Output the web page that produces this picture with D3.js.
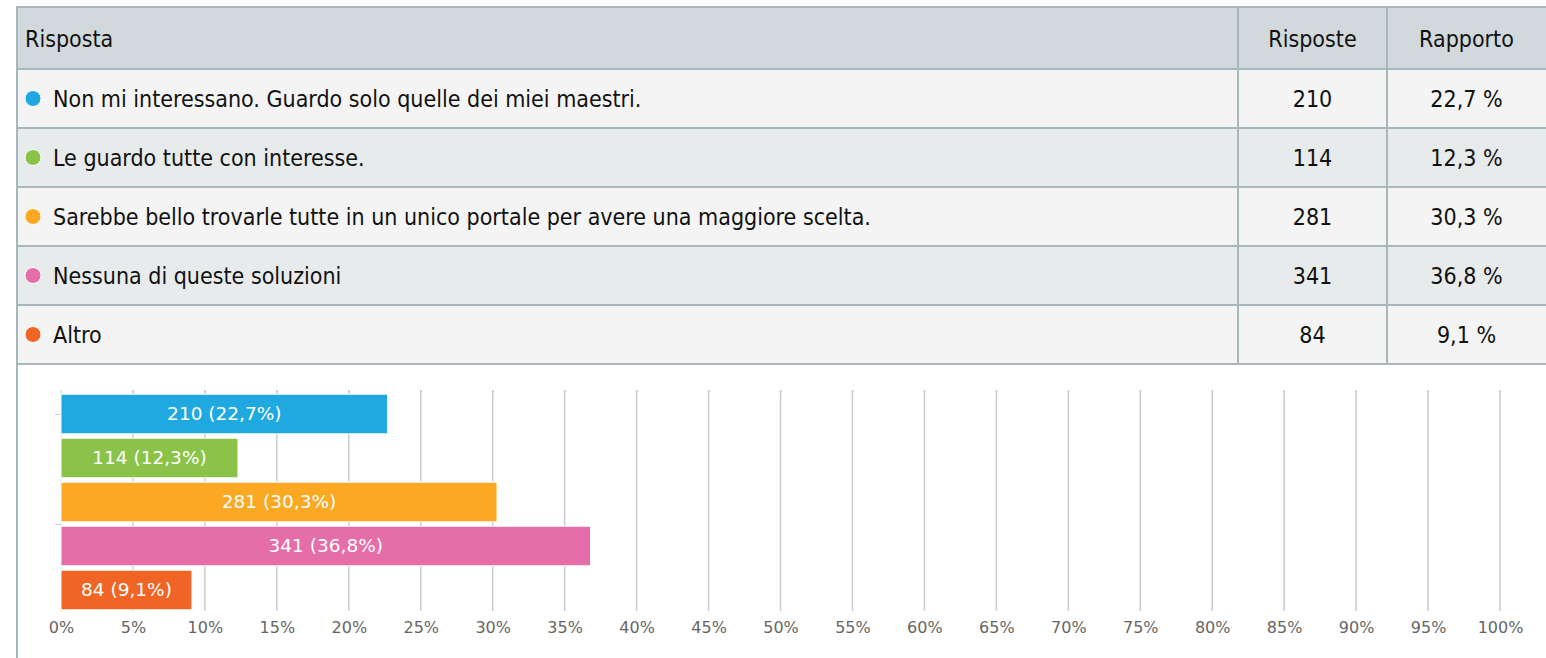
<!DOCTYPE html>
<html>
<head>
<meta charset="utf-8">
<script src="https://cdn.jsdelivr.net/npm/d3@7/dist/d3.min.js"></script>
<style>
  html, body { margin: 0; padding: 0; background: #fff; }
  svg { display: block; }
  .cell { font-family: "Liberation Sans Narrow", "DejaVu Sans Condensed", "Roboto Condensed", sans-serif; font-size: 23px; fill: #111; }
  .tick-label { font-family: "DejaVu Sans", sans-serif; font-size: 16px; fill: #666; }
  .bar-label { font-family: "DejaVu Sans", sans-serif; font-size: 18.5px; fill: #fff; }
</style>
</head>
<body>
<div id="chart"></div>
<script>
// answers, counts and shares as shown in the survey table
const answers = [
  'Non mi interessano. Guardo solo quelle dei miei maestri.',
  'Le guardo tutte con interesse.',
  'Sarebbe bello trovarle tutte in un unico portale per avere una maggiore scelta.',
  'Nessuna di queste soluzioni',
  'Altro'
];
const counts = [210, 114, 281, 341, 84];
const shares = [22.7, 12.3, 30.3, 36.8, 9.1];
const colors = ['#20a9e0', '#8bc34a', '#fba823', '#e56ea9', '#f06525'];
const headers = ['Risposta', 'Risposte', 'Rapporto'];
const xTicks = d3.range(0, 101, 5);

const W = 1546, H = 658;
const fmt = v => String(v).replace('.', ',');

const svg = d3.select('#chart').append('svg')
  .attr('width', W).attr('height', H);

// ---- table ----
const border = '#a8b6be';
const tableTop = 7, headH = 62, rowH = 59;
const colX = [16, 1238, 1387, W];

const rowY = d3.scaleLinear().domain([0, answers.length]).range([tableTop + headH, tableTop + headH + rowH * answers.length]);

svg.append('rect')
  .attr('x', colX[0]).attr('y', tableTop)
  .attr('width', W - colX[0]).attr('height', headH)
  .attr('fill', '#d1d9dc');

svg.append('g').selectAll('rect')
  .data(answers)
  .join('rect')
  .attr('x', colX[0]).attr('y', (d, i) => rowY(i))
  .attr('width', W - colX[0]).attr('height', rowH)
  .attr('fill', (d, i) => i % 2 ? '#e8ebec' : '#f4f4f4');

// header text
svg.append('text').attr('class', 'cell')
  .attr('x', 25).attr('y', tableTop + headH / 2 + 1).attr('dy', '0.35em')
  .text(headers[0]);
[1, 2].forEach(c => {
  svg.append('text').attr('class', 'cell')
    .attr('x', (colX[c] + colX[c + 1]) / 2).attr('y', tableTop + headH / 2 + 1).attr('dy', '0.35em')
    .attr('text-anchor', 'middle')
    .text(headers[c]);
});

const rows = svg.append('g').selectAll('g')
  .data(answers)
  .join('g')
  .attr('transform', (d, i) => `translate(0,${rowY(i) + rowH / 2})`);

rows.append('circle')
  .attr('cx', 33).attr('cy', 0).attr('r', 8)
  .attr('fill', (d, i) => colors[i])
  .attr('stroke', '#fff').attr('stroke-width', 1);

rows.append('text').attr('class', 'cell')
  .attr('x', 53).attr('dy', '0.35em')
  .text(d => d);

rows.append('text').attr('class', 'cell')
  .attr('x', (colX[1] + colX[2]) / 2).attr('dy', '0.35em')
  .attr('text-anchor', 'middle')
  .text((d, i) => counts[i]);

rows.append('text').attr('class', 'cell')
  .attr('x', (colX[2] + colX[3]) / 2).attr('dy', '0.35em')
  .attr('text-anchor', 'middle')
  .text((d, i) => fmt(shares[i]) + ' %');

// lines
const lines = svg.append('g').attr('stroke', border).attr('stroke-width', 2);
[tableTop].concat(d3.range(answers.length + 1).map(i => rowY(i))).forEach(y => {
  lines.append('line').attr('x1', colX[0]).attr('x2', W).attr('y1', y).attr('y2', y);
});
lines.append('line').attr('x1', colX[0] + 1).attr('x2', colX[0] + 1).attr('y1', tableTop).attr('y2', H);
[1, 2].forEach(c => {
  lines.append('line').attr('x1', colX[c]).attr('x2', colX[c])
    .attr('y1', tableTop).attr('y2', rowY(answers.length));
});

// ---- bar chart ----
const x = d3.scaleLinear().domain([0, 100]).range([61, 1500]);
const y = d3.scaleBand().domain(answers).range([392, 612]).paddingInner(0.1).paddingOuter(0.05);

svg.append('g').selectAll('line')
  .data(xTicks.slice(1))
  .join('line')
  .attr('x1', d => x(d)).attr('x2', d => x(d))
  .attr('y1', 390).attr('y2', 611)
  .attr('stroke', '#ccc').attr('stroke-width', 1.5);

const xAxis = svg.append('g')
  .attr('transform', 'translate(0,612)')
  .call(d3.axisBottom(x).tickValues(xTicks).tickSize(0).tickPadding(10).tickFormat(d => d + '%'));
xAxis.select('.domain').remove();
xAxis.selectAll('text').attr('class', 'tick-label').attr('fill', null).attr('font-size', null).attr('font-family', null);

// small ticks on top
const xTop = svg.append('g')
  .attr('transform', 'translate(0,390)')
  .call(d3.axisBottom(x).tickValues(xTicks).tickSize(3).tickFormat(''));
xTop.select('.domain').remove();
xTop.selectAll('line').attr('stroke', '#c5d0d8');

// left axis line and two small ticks
const yTicks = [y(answers[0]) + y.bandwidth() / 2, y(answers[3]) - y.step() * y.paddingInner() / 2];
const yAxisScale = d3.scaleIdentity().domain([390, 612]);
const yAxis = svg.append('g')
  .attr('transform', `translate(${x(0)},0)`)
  .call(d3.axisLeft(yAxisScale).tickValues(yTicks).tickSize(6).tickFormat(''));
yAxis.select('.domain').attr('stroke', '#dde3e8').attr('d', 'M0,390V612');
yAxis.selectAll('line').attr('stroke', '#c5d0d8');

const bars = svg.append('g').selectAll('g')
  .data(answers)
  .join('g');

bars.append('rect')
  .attr('x', x(0))
  .attr('y', d => y(d))
  .attr('width', (d, i) => x(shares[i]) - x(0))
  .attr('height', y.bandwidth())
  .attr('fill', (d, i) => colors[i])
  .attr('stroke', '#fff').attr('stroke-width', 1);

bars.append('text').attr('class', 'bar-label')
  .attr('x', (d, i) => (x(0) + x(shares[i])) / 2)
  .attr('y', d => y(d) + y.bandwidth() / 2)
  .attr('dy', '0.35em')
  .attr('text-anchor', 'middle')
  .text((d, i) => `${counts[i]} (${fmt(shares[i])}%)`);
</script>
</body>
</html>
